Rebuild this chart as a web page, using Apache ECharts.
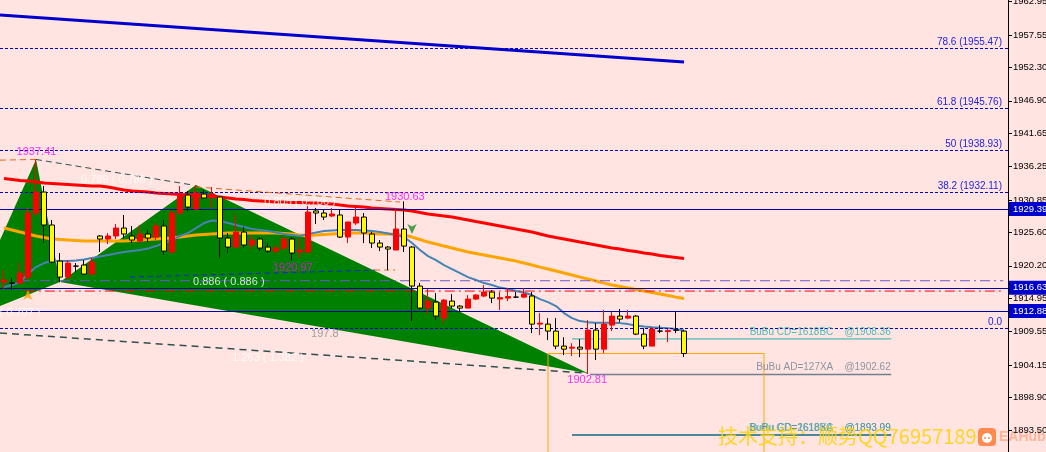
<!DOCTYPE html>
<html><head><meta charset="utf-8">
<script src="https://cdn.jsdelivr.net/npm/echarts@6/dist/echarts.min.js"></script>
<style>html,body{margin:0;padding:0;background:#FFE4E1;overflow:hidden}#c{width:1046px;height:452px}</style>
</head><body><div id="c"></div>
<script>
// ---- data ----
const priceTicks = [1962.95,1957.55,1952.30,1946.90,1941.65,1936.25,1930.85,1925.60,1920.20,1914.95,1909.55,1904.15,1898.90,1893.50];
const candleOpen = [1917.56,1917.40,1917.40,1918.37,1928.74,1932.14,1926.80,1920.96,1918.37,1920.15,
1920.32,1918.86,1925.02,1924.53,1925.02,1926.31,1925.02,1924.21,1925.34,1924.85,
1926.64,1922.42,1928.74,1931.65,1929.39,1931.81,1931.49,1931.33,1924.69,1923.23,
1925.66,1923.56,1924.53,1923.23,1922.58,1923.07,1924.53,1922.42,1922.42,1929.07,
1928.74,1928.26,1928.42,1924.85,1927.12,1928.09,1925.34,1923.88,1923.23,1922.75,
1926.15,1923.23,1916.92,1913.35,1914.32,1911.73,1914.49,1913.68,1913.35,1914.81,
1915.30,1915.95,1914.81,1914.97,1915.13,1915.13,1915.30,1910.76,1910.76,1909.63,
1907.20,1906.87,1907.03,1906.71,1909.79,1906.71,1910.60,1912.06,1911.73,1912.06,
1909.14,1907.20,1909.63,1909.55,1909.82,1909.63];
const candleClose = [1917.89,1917.40,1919.02,1928.74,1932.14,1926.80,1920.80,1918.37,1920.64,1920.15,
1918.86,1920.80,1924.53,1925.02,1926.31,1925.34,1924.37,1925.34,1924.69,1926.64,
1922.58,1928.74,1931.65,1929.71,1931.98,1931.17,1931.81,1924.69,1923.23,1925.66,
1923.56,1924.37,1923.07,1922.58,1923.07,1924.53,1922.26,1922.75,1928.90,1928.74,
1928.09,1928.58,1924.85,1927.29,1928.09,1925.50,1923.88,1923.23,1922.91,1926.15,
1923.39,1916.92,1913.35,1914.49,1912.06,1914.65,1913.68,1913.35,1914.81,1915.46,
1915.95,1914.97,1915.05,1915.22,1915.13,1915.62,1910.76,1910.92,1909.63,1907.20,
1906.71,1907.03,1906.71,1909.79,1906.71,1910.76,1912.06,1911.57,1912.06,1909.14,
1907.20,1909.95,1909.63,1909.71,1909.76,1906.00];
const candleLow = [1916.43,1916.27,1917.24,1917.89,1928.26,1923.88,1920.64,1917.56,1918.05,1919.18,
1918.70,1918.70,1922.42,1923.72,1924.53,1924.69,1923.88,1923.88,1924.04,1924.37,
1921.94,1922.26,1928.42,1929.07,1929.23,1931.00,1929.55,1921.45,1922.26,1923.07,
1923.07,1922.91,1922.58,1922.26,1922.26,1922.75,1920.97,1921.45,1922.26,1926.96,
1927.61,1928.09,1924.69,1923.88,1926.80,1923.88,1923.07,1922.58,1919.51,1922.75,
1922.42,1911.25,1913.03,1912.38,1911.41,1910.92,1913.35,1912.70,1913.35,1914.65,
1915.13,1914.16,1913.03,1914.49,1914.97,1914.97,1909.30,1908.98,1908.17,1906.71,
1905.74,1905.58,1905.41,1902.81,1904.95,1906.06,1909.63,1911.08,1911.57,1908.98,
1906.71,1907.20,1909.30,1907.84,1909.30,1905.41];
const candleHigh = [1919.51,1918.21,1920.64,1929.55,1937.41,1933.11,1927.61,1922.26,1921.13,1920.64,
1921.13,1921.45,1925.18,1925.50,1926.96,1928.42,1926.64,1926.80,1925.99,1927.12,
1927.61,1929.23,1933.11,1932.30,1933.27,1932.46,1932.95,1931.49,1925.50,1928.42,
1926.47,1925.18,1924.85,1923.88,1923.56,1924.85,1924.85,1924.69,1929.87,1929.55,
1929.23,1929.55,1929.39,1927.29,1929.71,1928.74,1925.66,1924.37,1923.39,1929.55,
1930.63,1923.39,1917.40,1916.43,1915.78,1914.81,1915.62,1913.84,1915.46,1915.62,
1917.08,1916.27,1915.95,1916.59,1915.95,1916.59,1915.95,1912.54,1911.73,1911.73,
1908.65,1907.68,1908.33,1911.41,1910.92,1913.03,1912.70,1913.19,1913.03,1912.22,
1910.11,1910.27,1910.60,1909.95,1912.70,1909.79];
const maRed = [1934.32,1934.16,1934.00,1933.92,1933.76,1933.59,1933.51,1933.43,1933.35,1933.27,
1933.19,1933.11,1933.11,1932.95,1932.70,1932.46,1932.30,1932.22,1932.14,1931.98,
1931.89,1931.81,1931.73,1931.65,1931.57,1931.49,1931.41,1931.33,1931.17,1931.00,
1930.92,1930.76,1930.68,1930.60,1930.52,1930.52,1930.44,1930.44,1930.36,1930.36,
1930.28,1930.20,1930.03,1929.87,1929.79,1929.71,1929.55,1929.47,1929.39,1929.31,
1929.23,1929.07,1928.82,1928.58,1928.42,1928.26,1928.09,1927.85,1927.61,1927.36,
1927.12,1926.88,1926.64,1926.39,1926.15,1925.91,1925.66,1925.34,1925.02,1924.77,
1924.53,1924.29,1924.04,1923.80,1923.56,1923.31,1923.07,1922.91,1922.67,1922.50,
1922.26,1922.10,1921.86,1921.69,1921.53,1921.37];
const maOrange = [1926.31,1925.99,1925.66,1925.34,1925.02,1924.77,1924.53,1924.45,1924.37,1924.29,
1924.21,1924.21,1924.21,1924.21,1924.21,1924.21,1924.29,1924.37,1924.45,1924.53,
1924.61,1924.69,1924.85,1925.02,1925.18,1925.26,1925.34,1925.42,1925.50,1925.50,
1925.50,1925.50,1925.50,1925.50,1925.50,1925.42,1925.34,1925.18,1925.10,1925.18,
1925.26,1925.34,1925.42,1925.50,1925.50,1925.50,1925.42,1925.34,1925.34,1925.26,
1925.18,1924.85,1924.45,1924.04,1923.72,1923.39,1923.07,1922.75,1922.42,1922.18,
1921.94,1921.69,1921.45,1921.21,1920.96,1920.64,1920.32,1919.99,1919.67,1919.35,
1919.02,1918.70,1918.37,1918.05,1917.73,1917.40,1917.08,1916.84,1916.59,1916.35,
1916.11,1915.87,1915.62,1915.38,1915.13,1914.89];
const maBlue = [1916.75,1917.08,1917.56,1918.86,1919.99,1920.64,1920.96,1920.96,1920.96,1921.05,
1921.21,1921.45,1921.69,1921.94,1922.18,1922.42,1922.58,1922.75,1922.99,1923.39,
1923.88,1924.37,1925.02,1925.50,1926.31,1927.12,1927.53,1927.45,1927.12,1926.80,
1926.47,1926.15,1925.99,1925.83,1925.58,1925.34,1925.18,1925.02,1925.34,1925.58,
1925.83,1925.91,1925.99,1925.99,1925.99,1925.91,1925.83,1925.66,1925.42,1925.18,
1924.85,1923.88,1922.75,1921.77,1921.13,1920.32,1919.67,1919.02,1918.37,1917.89,
1917.40,1917.08,1916.67,1916.43,1916.11,1915.87,1915.46,1914.81,1914.32,1913.68,
1912.54,1911.73,1911.25,1911.08,1911.00,1911.00,1911.00,1910.92,1910.76,1910.52,
1910.36,1910.27,1910.19,1910.11,1909.95,1909.71];
// harmonic pattern points X, A, B, C, D (bar index, price)
const harmonicIdx = [-5, 4, 7, 24, 73];
const harmonicPrice = [1911.34, 1937.41, 1917.56, 1933.27, 1902.81];
// fibonacci levels
const fibTexts = ['78.6 (1955.47)','61.8 (1945.76)','50 (1938.93)','38.2 (1932.11)','0.0'];
const fibPrices = [1955.47, 1945.76, 1938.93, 1932.11, 1910.03];
// horizontal price lines with axis tags
const hLinePrices = [1929.39, 1916.63, 1912.88];
const lastClose = 1906.00;
// trend / pattern lines: [startIdx, startPrice, endIdx, endPrice]
const trendTop = [-0.5, 1960.79, 85, 1953.18];
const lineAC = [4, 1937.41, 23.6, 1933.27];
const lineCE = [24, 1932.95, 49.5, 1930.52];
const lineXA = [-0.5, 1937.30, 4, 1937.41];
const lineXD = [-0.5, 1909.32, 73, 1902.81];
const lineB886 = [15.75, 1918.38, 46.4, 1919.51];
const lineB886b = [46.4, 1919.51, 48.9, 1919.51];
const levelSlate = [2, 1917.78, 124.9, 1917.78];
const levelRed = [2.6, 1916.11, 124.9, 1916.11];
// BuBu projection lines
const bubuPrices = [1908.36, 1902.62, 1892.81];
const bubuStart = [71, 73.25, 71];
const bubuEnd = 110.9;
const bubuTexts = ['BuBu CD=1618BC    @1908.36','BuBu AD=127XA    @1902.62','BuBu CD=1618XA    @1893.09','BuBu GD=2618BC    @1893.99'];
const bubuTextPrice = [1908.36, 1902.62, 1892.81, 1892.81];
// box
const boxIdx = [68, 95];
const boxTop = 1906.00, boxBottom = 1885;
// annotations
const annoText = ['1937.41','0.789 ( 0.786 )','0.805 ( 0.786 )','1930.63','1920.97','0.886 ( 0.886 )','( 0.707 )','197.8','1.263 ( 1.382 )','1902.81'];
const annoIdx = [4.06, 14.1, 37, 50.1, 36.1, 28.1, 2, 40.1, 33, 72.9];
const annoPrice = [1938.61, 1934.08, 1930.52, 1931.33, 1919.83, 1917.56, 1912.60, 1909.15, 1905.27, 1901.71];
const annoKind = ['point','ratio','ratio','point','point','ratio','ratio','level','ratio','point'];
// arrows
const arrowIdx = [3, 51];
const arrowPrice = [1916.27, 1925.34];
const arrowDir = ['up','down'];

// ---- chart ----
const N = 126;
const cats = Array.from({length:N}, (_, i) => String(i));
const candles = candleOpen.map((o, i) => [o, candleClose[i], candleLow[i], candleHigh[i]]);
const seg = (s) => [[s[0], s[1]], [s[2], s[3]]];
function lineSeries(points, color, width, type, z) {
  return {type:'line', xAxisIndex:1, yAxisIndex:0, data:points, symbol:'none', silent:true, z:z||5,
    lineStyle:{color:color, width:width, type:type||'solid'}};
}
const FONT = 'Liberation Sans';
const labelStyle = {
  point:{color:'#FF00FF', fontSize:11},
  ratio:{color:'#FFFFFF', fontSize:11},
  level:{color:'#8A8A8A', fontSize:11}
};
const P = (k) => [harmonicIdx[k], harmonicPrice[k]];
const triangles = [[...P(0), ...P(1), ...P(2)], [...P(2), ...P(3), ...P(4)]];
const tagFont = {fontSize:9.5, fontFamily:FONT};

const markData = [];
fibPrices.forEach((p, i) => markData.push({yAxis:p, lineStyle:{color:'#0000CD', type:[3,2], width:1},
  label:{show:true, position:'insideEndTop', formatter:fibTexts[i], color:'#2222DD', fontSize:10, distance:[6,1], fontFamily:FONT}}));
hLinePrices.forEach(p => markData.push({yAxis:p, lineStyle:{color:'#0000AA', type:'solid', width:1},
  label:Object.assign({show:true, position:'end', distance:1, formatter:p.toFixed(2), color:'#fff', backgroundColor:'#0000CD', padding:[2,8,2,4], borderRadius:0}, tagFont)}));
markData.push({yAxis:lastClose, lineStyle:{opacity:0},
  label:Object.assign({show:true, position:'end', distance:1, formatter:lastClose.toFixed(2), color:'#fff', backgroundColor:'#000', padding:[2,8,2,4]}, tagFont)});

const series = [
  {type:'custom', xAxisIndex:1, yAxisIndex:0, data:triangles, clip:true, z:1, silent:true,
    encode:{x:[0,2,4], y:[1,3,5]},
    renderItem:(params, api) => {
      const pts = [0,2,4].map(k => api.coord([api.value(k), api.value(k+1)]));
      return {type:'polygon', shape:{points:pts}, style:{fill:'#008000'}};
    }},
  {type:'line', data:maRed, symbol:'none', z:3, silent:true, lineStyle:{color:'#FF0000', width:3}},
  {type:'line', data:maOrange, symbol:'none', z:3, silent:true, lineStyle:{color:'#FFA500', width:3}},
  {type:'line', data:maBlue, symbol:'none', z:3, silent:true, lineStyle:{color:'#4682B4', width:2}},
  lineSeries(seg(trendTop), '#0000CD', 3, 'solid'),
  lineSeries(seg(lineAC), '#2F4F4F', 1, [6,4]),
  lineSeries(seg(lineCE), '#E0691A', 1, [6,4]),
  lineSeries(seg(lineXA), '#E0691A', 1, [6,4]),
  lineSeries(seg(lineXD), '#2F4F4F', 1.5, [7,5]),
  lineSeries(seg(lineB886), '#2020DD', 1, [5,4]),
  lineSeries(seg(lineB886b), '#E0691A', 1, [5,4]),
  lineSeries(seg(levelSlate), '#6A5ACD', 1, [10,4,2,4]),
  lineSeries(seg(levelRed), '#FF0000', 1, [10,4,2,4]),
  lineSeries([[bubuStart[0], bubuPrices[0]], [bubuEnd, bubuPrices[0]]], '#20B2AA', 1),
  lineSeries([[bubuStart[1], bubuPrices[1]], [bubuEnd, bubuPrices[1]]], '#708090', 1.5),
  lineSeries([[bubuStart[2], bubuPrices[2]], [bubuEnd, bubuPrices[2]]], '#4A8A96', 2),
  lineSeries([[boxIdx[0], boxBottom], [boxIdx[0], boxTop], [boxIdx[1], boxTop], [boxIdx[1], boxBottom]], '#FFA500', 1),
  {type:'candlestick', data:candles, barWidth:5, z:6, silent:true,
    itemStyle:{color:'#FF0000', color0:'#FFFF00', borderColor:'#FF0000', borderColor0:'#000000', borderWidth:1},
    markLine:{symbol:['none','none'], silent:true, animation:false, data:markData}},
  {type:'scatter', xAxisIndex:1, yAxisIndex:0, symbolSize:1, z:8, silent:true, itemStyle:{color:'transparent'},
    data:annoText.map((t, i) => ({value:[annoIdx[i], annoPrice[i]],
      label:{show:true, position:'inside', formatter:t, align:'center', verticalAlign:'middle',
        color:labelStyle[annoKind[i]].color, fontSize:labelStyle[annoKind[i]].fontSize, fontFamily:FONT}}))},
  {type:'scatter', xAxisIndex:1, yAxisIndex:0, symbolSize:1, z:8, silent:true, itemStyle:{color:'transparent'},
    data:bubuTexts.map((t, i) => ({value:[bubuEnd, bubuTextPrice[i]],
      label:{show:true, position:'left', distance:0, offset:[0,-7], formatter:t,
        color: i === 1 ? '#708090' : (i === 3 ? '#5F8F9A' : '#20B2AA'), fontSize:10, fontFamily:FONT}}))},
  {type:'scatter', xAxisIndex:1, yAxisIndex:0, z:9, silent:true, symbol:'arrow',
    data:arrowIdx.map((x, i) => ({value:[x, arrowPrice[i]], symbolSize:[7,10], symbolRotate: arrowDir[i] === 'up' ? 0 : 180,
      itemStyle:{color: arrowDir[i] === 'up' ? '#FFA500' : '#1E8C1E'}}))}
];

const chart = echarts.init(document.getElementById('c'));
chart.setOption({
  animation:false,
  backgroundColor:'#FFE4E1',
  grid:{left:0, top:0, width:1008, height:452, containLabel:false, outerBoundsMode:'none'},
  xAxis:[
    {type:'category', data:cats, boundaryGap:true, show:false},
    {type:'value', min:-0.5, max:N-0.5, show:false}
  ],
  yAxis:{type:'value', position:'right', min:1890.06, max:1963.22, scale:true,
    splitLine:{show:false},
    axisLine:{show:true, onZero:false, lineStyle:{color:'#000', width:1}},
    axisTick:{show:true, customValues:priceTicks, length:4, lineStyle:{color:'#000'}},
    axisLabel:{show:true, customValues:priceTicks, formatter:(v) => Number(v).toFixed(2), color:'#000', fontSize:9.5, margin:5, fontFamily:FONT}},
  series:series,
  graphic:[
    {type:'text', left:718, top:426, z:20, silent:true,
      style:{text:'技术支持：顺势QQ76957189', fill:'rgba(255,210,0,0.85)', font:'20px "Noto Sans CJK SC"'}},
    {type:'group', left:978, top:428, z:20, silent:true, children:[
      {type:'rect', shape:{x:0, y:0, width:18, height:18, r:4}, style:{fill:'#FF8A50'}},
      {type:'circle', shape:{cx:9, cy:10, r:5}, style:{fill:'#FFFFFF'}},
      {type:'circle', shape:{cx:7, cy:10, r:1}, style:{fill:'#FF8A50'}},
      {type:'circle', shape:{cx:11, cy:10, r:1}, style:{fill:'#FF8A50'}},
      {type:'text', x:21, y:2, style:{text:'EAHub', fill:'#FFB49A', font:'bold 14px "Liberation Sans"'}}
    ]}
  ]
});
</script>
</body></html>
